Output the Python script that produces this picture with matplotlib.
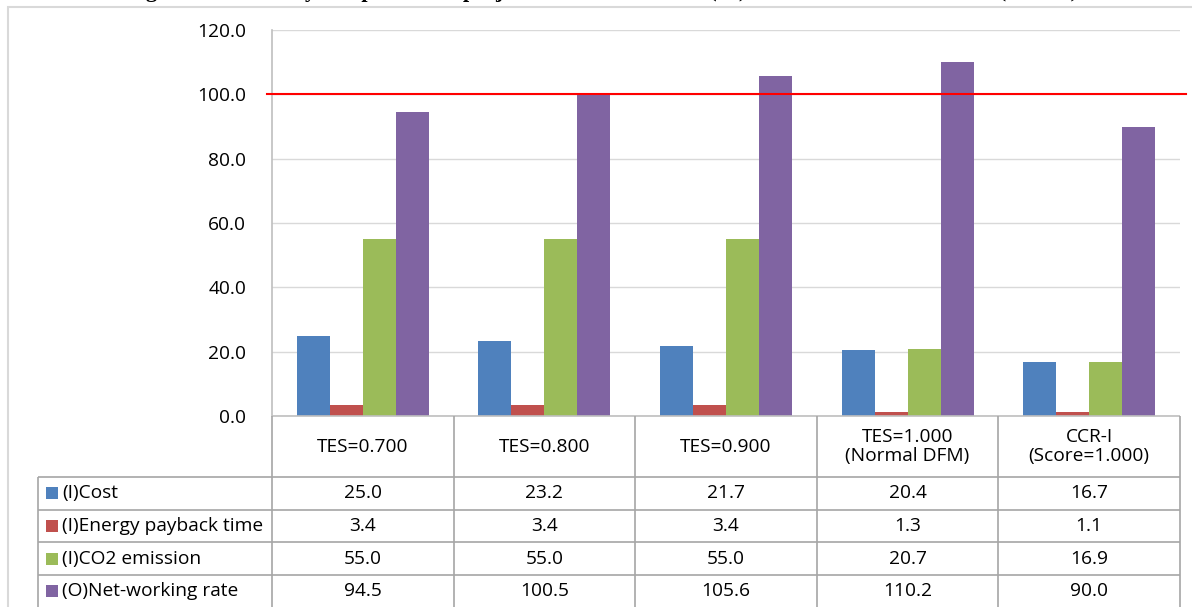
import matplotlib
matplotlib.use("Agg")
import matplotlib.pyplot as plt
from matplotlib.lines import Line2D
from matplotlib.patches import Rectangle

# ---- data ----
categories = ["TES=0.700", "TES=0.800", "TES=0.900",
              "TES=1.000\n(Normal DFM)", "CCR-I\n(Score=1.000)"]
series_names = ["(I)Cost", "(I)Energy payback time",
                "(I)CO2 emission", "(O)Net-working rate"]
cost = [25.0, 23.2, 21.7, 20.4, 16.7]
payback = [3.4, 3.4, 3.4, 1.3, 1.1]
co2 = [55.0, 55.0, 55.0, 20.7, 16.9]
net_rate = [94.5, 100.5, 105.6, 110.2, 90.0]
y_ticks = [0, 20, 40, 60, 80, 100, 120]
reference_level = 100.0
title_text = ("Figure 5. Sensitivity comparison of project evaluation "
              "results (%) at TES levels vs. the DEA (CCR-I)")

series = [cost, payback, co2, net_rate]
colors = ["#4F81BD", "#C0504D", "#9BBB59", "#8064A2"]

W, H = 1192, 607
FONT = "Open Sans"
FS = 13.8

fig = plt.figure(figsize=(W / 100, H / 100), dpi=100)
fig.patch.set_facecolor("white")


def fx(x):
    return x / W


def fy(y):
    return 1 - y / H


def fline(x0, y0, x1, y1, color, lw=1.0):
    fig.add_artist(Line2D([fx(x0), fx(x1)], [fy(y0), fy(y1)],
                          transform=fig.transFigure, color=color, lw=lw,
                          solid_capstyle="butt"))


# outer chart frame
fig.add_artist(Rectangle((fx(8), fy(620)), fx(1200) - fx(8), fy(7) - fy(620),
                         transform=fig.transFigure, fill=False,
                         edgecolor="#d9d9d9", lw=1.5))

# caption sitting above the top edge (only its descenders show)
fig.text(fx(126), fy(-2.5), title_text, fontfamily="Liberation Serif",
         fontweight="bold", fontsize=16, ha="left", va="baseline",
         color="black")

# ---- bar chart ----
plot_l, plot_r, plot_t, plot_b = 272, 1180, 30, 416
ax = fig.add_axes([fx(plot_l), fy(plot_b), fx(plot_r) - fx(plot_l),
                   fy(plot_t) - fy(plot_b)])
n = len(categories)
bw = 0.1817
for k, (vals, c) in enumerate(zip(series, colors)):
    xs = [i + 0.5 + (k - 1.5) * bw for i in range(n)]
    ax.bar(xs, vals, width=bw, color=c, zorder=3, linewidth=0)

ax.set_xlim(0, n)
ax.set_ylim(y_ticks[0], y_ticks[-1])
ax.set_yticks(y_ticks)
ax.set_yticklabels([f"{v:.1f}" for v in y_ticks], fontfamily=FONT,
                   fontsize=FS)
ax.set_xticks([])
ax.tick_params(axis="y", length=0, pad=18.5)
ax.grid(axis="y", color="#d9d9d9", lw=1, zorder=0)
for side in ("top", "right", "bottom"):
    ax.spines[side].set_visible(False)
ax.spines["left"].set_color("#bfbfbf")
ax.spines["left"].set_linewidth(1.2)

# threshold line
ax.plot([-0.0275, n + 0.033], [reference_level, reference_level],
        color="#ff0000", lw=1.5, clip_on=False, zorder=4)

# ---- data table ----
col_w = (plot_r - plot_l) / n
col_edges = [plot_l + i * col_w for i in range(n + 1)]
header_b = 477
row_h = 32.7
row_edges = [header_b + i * row_h for i in range(len(series) + 1)]
leg_l = 38
grid_c = "#a6a6a6"

fline(plot_l, plot_b, plot_r, plot_b, "#bfbfbf", 1.2)
for x in col_edges:
    fline(x, plot_b, x, 612, grid_c, 1.2)
for y in row_edges[:-1]:
    fline(leg_l, y, plot_r, y, grid_c, 1.2)
fline(leg_l, header_b, leg_l, 612, grid_c, 1.2)

for i, cat in enumerate(categories):
    cx = (col_edges[i] + col_edges[i + 1]) / 2
    fig.text(fx(cx), fy((plot_b + header_b) / 2), cat, ha="center",
             va="center", fontfamily=FONT, fontsize=FS, linespacing=1.05)

for r, (name, vals, c) in enumerate(zip(series_names, series, colors)):
    cy = (row_edges[r] + row_edges[r + 1]) / 2
    fig.add_artist(Rectangle((fx(46), fy(cy + 6)), fx(58) - fx(46),
                             fy(cy - 6) - fy(cy + 6),
                             transform=fig.transFigure, facecolor=c,
                             edgecolor="none"))
    fig.text(fx(62), fy(cy), name, ha="left", va="center",
             fontfamily=FONT, fontsize=FS)
    for i, v in enumerate(vals):
        cx = (col_edges[i] + col_edges[i + 1]) / 2
        fig.text(fx(cx), fy(cy), f"{v:.1f}", ha="center", va="center",
                 fontfamily=FONT, fontsize=FS)

fig.savefig("out.png", dpi=100)
